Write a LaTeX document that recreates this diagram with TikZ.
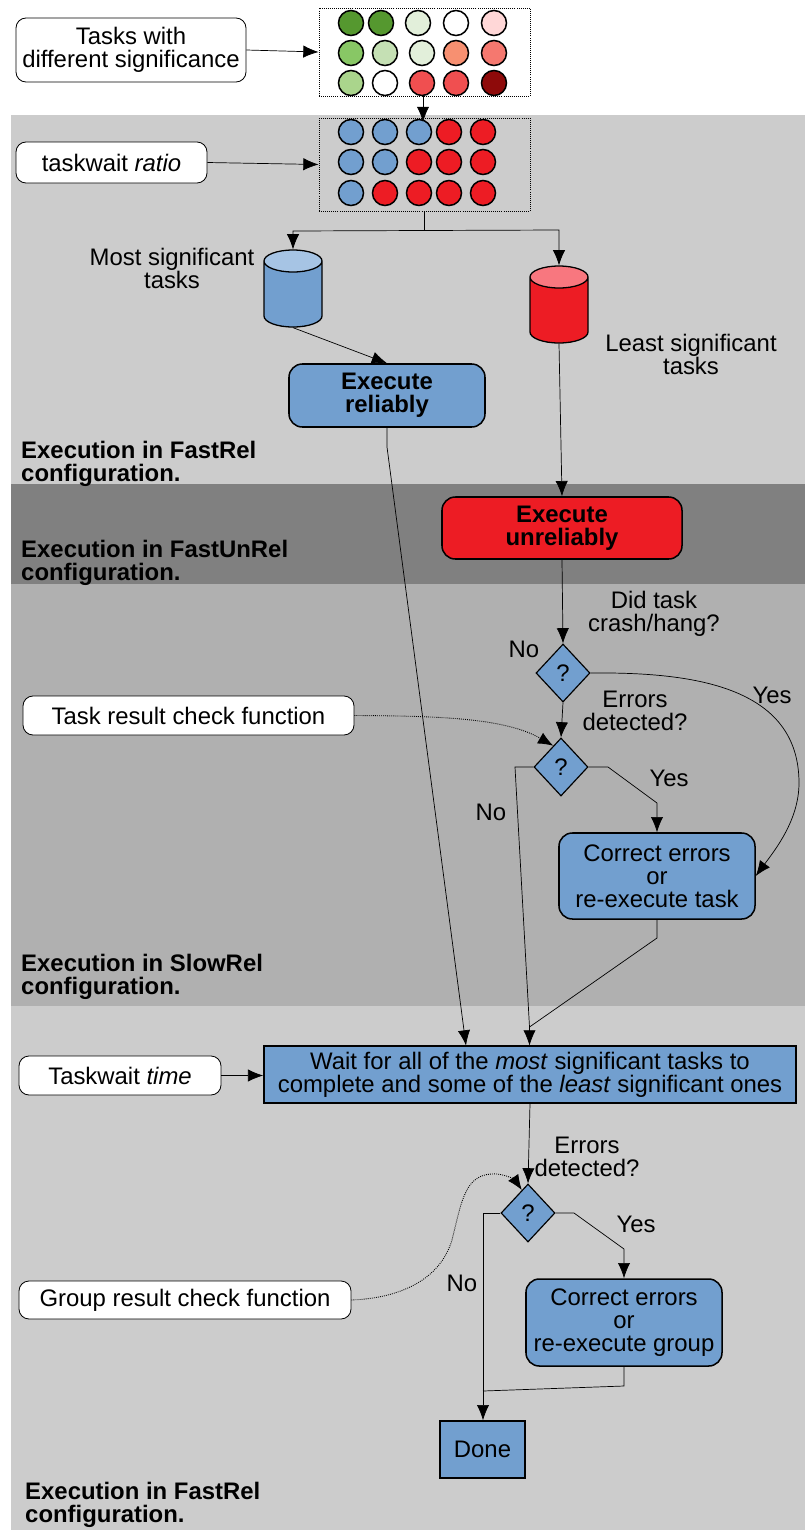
\documentclass[tikz,border=0pt]{standalone}
\usepackage{fontspec}
\setmainfont{Liberation Sans}
\usepackage{tikz}
\usetikzlibrary{shapes.geometric, arrows.meta}

\definecolor{taskblue}{HTML}{729FCF}
\definecolor{taskblue top}{HTML}{A6C4E4}
\definecolor{taskred}{HTML}{ED1C24}
\definecolor{taskred top}{HTML}{F8777F}
\definecolor{green a}{HTML}{55982F}
\definecolor{green b}{HTML}{88C765}
\definecolor{green c}{HTML}{AAD58C}
\definecolor{green d}{HTML}{C5E0B4}
\definecolor{green e}{HTML}{E2EFDA}
\definecolor{red a}{HTML}{FFD7D7}
\definecolor{red b}{HTML}{F79071}
\definecolor{red c}{HTML}{F5786F}
\definecolor{red d}{HTML}{F04F50}
\definecolor{red e}{HTML}{8E0A0A}

\tikzset{
    txt/.style={font=\fontsize{20.4}{19.6}\selectfont, align=center, inner sep=0pt},
    lbl/.style={txt, font=\fontsize{20.4}{19.6}\selectfont\bfseries, align=left, anchor=west},
    note/.style={txt, draw=black, fill=white, line width=0.7pt, rounded corners=0.3cm},
    proc/.style={txt, draw=black, fill=taskblue, line width=1.3pt, rounded corners=0.4cm},
    dot/.style={circle, draw=black, line width=1.3pt, minimum size=0.75cm, inner sep=0pt},
    grid/.style={draw=black, line width=0.75pt, densely dotted, minimum width=6.33cm, inner sep=0pt},
    ask/.style={txt, diamond, draw=black, fill=taskblue, line width=1pt, minimum width=1.62cm, minimum height=1.74cm},
    can/.style={cylinder, anchor=shape center, shape border rotate=90, aspect=0.55, draw=black, line width=1.1pt,
        cylinder uses custom fill, minimum width=1.74cm, minimum height=2.31cm, inner sep=0.6cm},
    conn/.style={line width=0.6pt, -{Latex[length=13pt,width=10.5pt]}},
    plain/.style={line width=0.6pt},
    hint/.style={line width=0.75pt, densely dotted, -{Latex[length=13pt,width=10.5pt]}}
}

\begin{document}
\begin{tikzpicture}[x=0.03cm, y=-0.03cm]
    \useasboundingbox (0,0) rectangle (805,1530);
    % bands
    \fill[black!20] (11,115) rectangle (805,484);
    \fill[black!50] (11,484) rectangle (805,584);
    \fill[black!31] (11,584) rectangle (805,1006);
    \fill[black!20] (11,1006) rectangle (805,1530);

    % task grids
    \node[grid, minimum height=2.64cm] at (424.5,52) (gridsig) {};
    \node[dot, fill=green a] at (351,23) (s11) {};
    \node[dot, fill=green a] at (381,23) (s12) {};
    \node[dot, fill=green e] at (418,23) (s13) {};
    \node[dot, fill=white] at (456,23) (s14) {};
    \node[dot, fill=red a] at (494,23) (s15) {};
    \node[dot, fill=green b] at (351,53) (s21) {};
    \node[dot, fill=green d] at (385,53) (s22) {};
    \node[dot, fill=green e] at (422,53) (s23) {};
    \node[dot, fill=red b] at (456,53) (s24) {};
    \node[dot, fill=red c] at (494,53) (s25) {};
    \node[dot, fill=green c] at (351,83) (s31) {};
    \node[dot, fill=white] at (385,83) (s32) {};
    \node[dot, fill=red d] at (422,83) (s33) {};
    \node[dot, fill=red d] at (456,83) (s34) {};
    \node[dot, fill=red e] at (494,83) (s35) {};

    \node[grid, minimum height=2.79cm] at (424.5,164.5) (gridratio) {};
    \node[dot, fill=taskblue] at (351,132) (r11) {};
    \node[dot, fill=taskblue] at (385,132) (r12) {};
    \node[dot, fill=taskblue] at (419,132) (r13) {};
    \node[dot, fill=taskred] at (449,132) (r14) {};
    \node[dot, fill=taskred] at (483,132) (r15) {};
    \node[dot, fill=taskblue] at (351,162) (r21) {};
    \node[dot, fill=taskblue] at (385,162) (r22) {};
    \node[dot, fill=taskred] at (419,162) (r23) {};
    \node[dot, fill=taskred] at (449,162) (r24) {};
    \node[dot, fill=taskred] at (483,162) (r25) {};
    \node[dot, fill=taskblue] at (351,193) (r31) {};
    \node[dot, fill=taskred] at (385,193) (r32) {};
    \node[dot, fill=taskred] at (419,193) (r33) {};
    \node[dot, fill=taskred] at (449,193) (r34) {};
    \node[dot, fill=taskred] at (483,193) (r35) {};

    % notes
    \node[note, minimum width=6.9cm, minimum height=1.92cm] at (131,50) (tasksnote) {Tasks with\\different significance};
    \node[note, minimum width=5.73cm, minimum height=1.23cm] at (111.5,162.5) (rationote) {taskwait \textit{ratio}};
    \node[note, minimum width=9.93cm, minimum height=1.17cm] at (188.5,715.5) (tasknote) {Task result check function};
    \node[note, minimum width=6.06cm, minimum height=1.17cm] at (120,1075.5) (timenote) {Taskwait \textit{time}};
    \node[note, minimum width=9.96cm, minimum height=1.14cm] at (185,1300) (groupnote) {Group result check function};

    % queues
    \node[can, cylinder body fill=taskblue, cylinder end fill=taskblue top] at (293,288.5) (mostcan) {};
    \node[can, cylinder body fill=taskred, cylinder end fill=taskred top] at (559,304.5) (leastcan) {};

    % steps
    \node[proc, font=\fontsize{20.4}{19.6}\selectfont\bfseries, minimum width=5.88cm, minimum height=1.89cm] at (387,395.5) (reliable) {Execute\\reliably};
    \node[proc, fill=taskred, font=\fontsize{20.4}{19.6}\selectfont\bfseries, minimum width=7.2cm, minimum height=1.86cm] at (562,528) (unreliable) {Execute\\unreliably};
    \node[ask] at (563,673) (crashask) {?};
    \node[ask] at (561,767) (errask) {?};
    \node[proc, minimum width=5.88cm, minimum height=2.58cm] at (657,876) (fixtask) {Correct errors\\or\\re-execute task};
    \node[proc, rounded corners=0pt, minimum width=15.96cm, minimum height=1.71cm] at (530,1074.5) (waitall) {Wait for all of the \textit{most} significant tasks to\\complete and some of the \textit{least} significant ones};
    \node[ask] at (528,1213) (groupask) {?};
    \node[proc, minimum width=5.88cm, minimum height=2.61cm] at (624,1322.5) (fixgroup) {Correct errors\\or\\re-execute group};
    \node[proc, rounded corners=0pt, minimum width=2.55cm, minimum height=1.71cm] at (482.5,1449.5) (done) {Done};

    % free labels
    \node[txt] at (172,268) (mostlbl) {Most significant\\tasks};
    \node[txt] at (691,354) (leastlbl) {Least significant\\tasks};
    \node[txt] at (654,614) (crashlbl) {Did task\\crash/hang?};
    \node[txt] at (524,649) (crashno) {No};
    \node[txt] at (635,711) (errlbl) {Errors\\detected?};
    \node[txt] at (772,695) (crashyes) {Yes};
    \node[txt] at (669,778) (erryes) {Yes};
    \node[txt] at (491,812) (errno) {No};
    \node[txt] at (587,1157) (grouplbl) {Errors\\detected?};
    \node[txt] at (636,1224) (groupyes) {Yes};
    \node[txt] at (462,1283) (groupno) {No};
    \node[lbl] at (21,463.5) (cfgfast) {Execution in FastRel\\configuration.};
    \node[lbl] at (21,562.5) (cfgunrel) {Execution in FastUnRel\\configuration.};
    \node[lbl] at (21,976.5) (cfgslow) {Execution in SlowRel\\configuration.};
    \node[lbl] at (25,1504.5) (cfgend) {Execution in FastRel\\configuration.};

    % bends
    \coordinate (sigdrop) at (423,122);
    \coordinate (ratiofork) at (424,230.5);
    \coordinate (mostbend) at (293,231);
    \coordinate (leastbend) at (559,230);
    \coordinate (relbend) at (387,447);
    \coordinate (relend) at (466,1045.5);
    \coordinate (errleft) at (515,767);
    \coordinate (errright) at (608,767);
    \coordinate (errdown) at (657,803);
    \coordinate (fixbend) at (657,938);
    \coordinate (fixjoin) at (529.5,1027);
    \coordinate (fixend) at (529.5,1045.5);
    \coordinate (groupleft) at (483,1213);
    \coordinate (groupright) at (574,1213);
    \coordinate (groupdown) at (624,1249);
    \coordinate (fixgbend) at (624,1386);
    \coordinate (fixgjoin) at (483,1391);

    % connectors
    \draw[conn] (tasksnote.east) -- (gridsig.west);
    \draw[conn] (rationote.east) -- (gridratio.west);
    \draw[conn] (sigdrop |- gridsig.south) -- (sigdrop);
    \draw[plain] (ratiofork |- gridratio.south) -- (ratiofork);
    \draw[conn] (ratiofork) -- (mostbend) -- (mostcan.north);
    \draw[conn] (ratiofork) -- (leastbend) -- (leastcan.north);
    \draw[conn] (mostcan.south) -- (reliable.north);
    \draw[conn] (reliable.south) -- (relbend) -- (relend);
    \draw[conn] (leastcan.south) -- (unreliable.north);
    \draw[conn] (unreliable.south) -- (crashask.north);
    \draw[conn] (crashask.south) -- (errask.north);
    \draw[conn] (crashask.east) .. controls (690,672) and (799,685) .. (799,783) .. controls (799,820) and (775,850) .. (fixtask.east);
    \draw[hint] (tasknote.east) .. controls (440,716) and (505,718) .. (errask.110);
    \draw[plain] (errask.west) -- (errleft) -- (fixjoin);
    \draw[conn] (fixjoin) -- (fixend);
    \draw[conn] (errask.east) -- (errright) -- (errdown) -- (fixtask.north);
    \draw[plain] (fixtask.south) -- (fixbend) -- (fixjoin);
    \draw[conn] (timenote.east) -- (timenote.east -| waitall.west);
    \draw[conn] (waitall.south) -- (groupask.north);
    \draw[hint] (groupnote.east) .. controls (400,1298) and (440,1280) .. (452,1240) .. controls (462,1200) and (465,1172) .. (497,1174) .. controls (507,1175) and (515,1180) .. (groupask.105);
    \draw[conn] (groupask.east) -- (groupright) -- (groupdown) -- (fixgroup.north);
    \draw[conn] (groupask.west) -- (groupleft) -- (done.north -| groupleft);
    \draw[plain] (fixgroup.south) -- (fixgbend) -- (fixgjoin);
\end{tikzpicture}
\end{document}
